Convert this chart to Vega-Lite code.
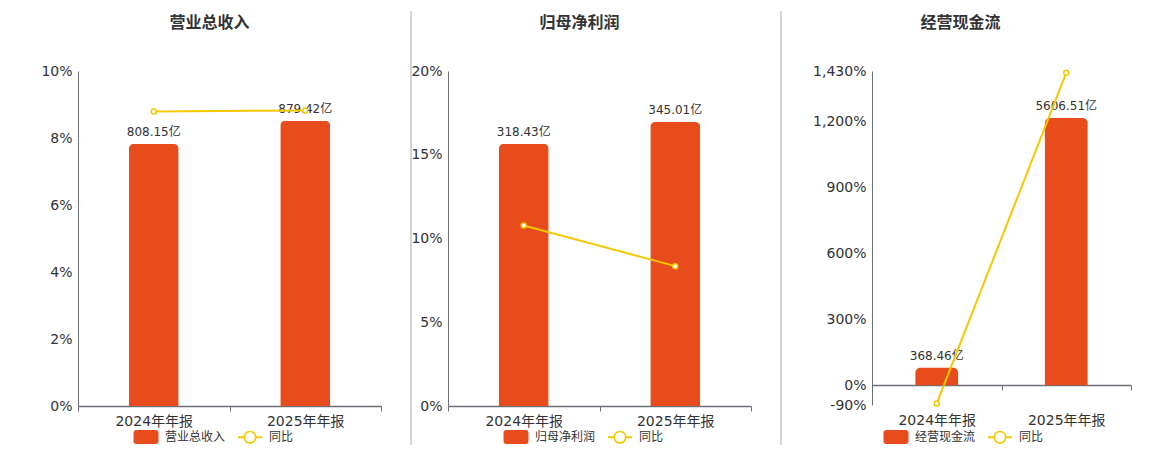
{
  "$schema": "https://vega.github.io/schema/vega-lite/v6.json",
  "padding": {"left": 40, "top": 10, "right": 30, "bottom": 0},
  "bounds": "flush",
  "spacing": 30,
  "hconcat": [
    {
      "width": 303,
      "height": 335,
      "title": {"text": "营业总收入", "dx": -20},
      "data": {"values": [
        {"period": "2024年年报", "value": 808.15, "label": "808.15亿", "yoy": 8.79},
        {"period": "2025年年报", "value": 879.42, "label": "879.42亿", "yoy": 8.82}
      ]},
      "encoding": {
        "x": {"field": "period", "type": "nominal", "sort": null, "scale": {"paddingInner": 0, "paddingOuter": 0}}
      },
      "layer": [
        {
          "encoding": {"y": {"field": "value", "type": "quantitative", "scale": {"domain": [0, 1033], "nice": false}, "axis": null}},
          "layer": [
            {
              "mark": {"type": "bar", "width": {"band": 0.33}, "cornerRadiusTopLeft": 5, "cornerRadiusTopRight": 5},
              "encoding": {
                "color": {
                  "datum": "营业总收入",
                  "scale": {"domain": ["营业总收入", "同比"], "range": ["#E84C1C", "#F5C800"]},
                  "legend": {
                    "orient": "none", "direction": "horizontal", "legendX": 54, "legendY": 352, "title": null,
                    "symbolSize": 772, "labelFontSize": 12, "labelColor": "#333333", "labelOffset": 5, "columnPadding": 10,
                    "encode": {"symbols": {"update": {
                      "shape": {"signal": "datum.value === '同比' ? 'M-0.86,-0.07H-0.46V0.07H-0.86Z M0.46,-0.07H0.86V0.07H0.46Z M0.47,0A0.47,0.47 0 1 1 -0.47,0A0.47,0.47 0 1 1 0.47,0Z M0.35,0A0.35,0.35 0 1 0 -0.35,0A0.35,0.35 0 1 0 0.35,0Z' : 'M-0.7,-0.5H0.7A0.2,0.2 0 0 1 0.9,-0.3V0.3A0.2,0.2 0 0 1 0.7,0.5H-0.7A0.2,0.2 0 0 1 -0.9,0.3V-0.3A0.2,0.2 0 0 1 -0.7,-0.5Z'"},
                      "strokeWidth": {"value": 0},
                      "size": {"value": 772},
                      "opacity": {"value": 1}
                    }}}
                  }
                }
              }
            },
            {
              "mark": {"type": "text", "baseline": "bottom", "dy": -5, "fontSize": 12, "color": "#333333"},
              "encoding": {"text": {"field": "label"}}
            }
          ]
        },
        {
          "encoding": {"y": {"field": "yoy", "type": "quantitative", "scale": {"domain": [0, 10], "nice": false, "zero": false},
            "axis": {"orient": "left", "values": [0, 2, 4, 6, 8, 10], "labelExpr": "datum.value + '%'"}}},
          "layer": [
            {"mark": {"type": "line", "strokeWidth": 2}, "encoding": {"color": {"datum": "同比"}}},
            {"mark": {"type": "point", "filled": false, "fill": "#ffffff", "fillOpacity": 1, "stroke": "#F5C800", "strokeWidth": 1.5, "size": 25, "opacity": 1}}
          ]
        }
      ],
      "resolve": {"scale": {"y": "independent"}}
    },
    {
      "width": 7,
      "height": 335,
      "data": {"values": [{}]},
      "mark": {"type": "rule", "color": "#aaaaaa", "strokeWidth": 1},
      "encoding": {
        "x": {"datum": 0, "type": "quantitative", "scale": {"domain": [0, 1]}, "axis": null},
        "y": {"datum": -0.116, "type": "quantitative", "scale": {"domain": [0, 1]}, "axis": null},
        "y2": {"datum": 1.179}
      }
    },
    {
      "width": 303,
      "height": 335,
      "title": {"text": "归母净利润", "dx": -20},
      "data": {"values": [
        {"period": "2024年年报", "value": 318.43, "label": "318.43亿", "yoy": 10.78},
        {"period": "2025年年报", "value": 345.01, "label": "345.01亿", "yoy": 8.35}
      ]},
      "encoding": {
        "x": {"field": "period", "type": "nominal", "sort": null, "scale": {"paddingInner": 0, "paddingOuter": 0}}
      },
      "layer": [
        {
          "encoding": {"y": {"field": "value", "type": "quantitative", "scale": {"domain": [0, 407], "nice": false}, "axis": null}},
          "layer": [
            {
              "mark": {"type": "bar", "width": {"band": 0.33}, "cornerRadiusTopLeft": 5, "cornerRadiusTopRight": 5},
              "encoding": {
                "color": {
                  "datum": "归母净利润",
                  "scale": {"domain": ["归母净利润", "同比"], "range": ["#E84C1C", "#F5C800"]},
                  "legend": {
                    "orient": "none", "direction": "horizontal", "legendX": 54, "legendY": 352, "title": null,
                    "symbolSize": 772, "labelFontSize": 12, "labelColor": "#333333", "labelOffset": 5, "columnPadding": 10,
                    "encode": {"symbols": {"update": {
                      "shape": {"signal": "datum.value === '同比' ? 'M-0.86,-0.07H-0.46V0.07H-0.86Z M0.46,-0.07H0.86V0.07H0.46Z M0.47,0A0.47,0.47 0 1 1 -0.47,0A0.47,0.47 0 1 1 0.47,0Z M0.35,0A0.35,0.35 0 1 0 -0.35,0A0.35,0.35 0 1 0 0.35,0Z' : 'M-0.7,-0.5H0.7A0.2,0.2 0 0 1 0.9,-0.3V0.3A0.2,0.2 0 0 1 0.7,0.5H-0.7A0.2,0.2 0 0 1 -0.9,0.3V-0.3A0.2,0.2 0 0 1 -0.7,-0.5Z'"},
                      "strokeWidth": {"value": 0},
                      "size": {"value": 772},
                      "opacity": {"value": 1}
                    }}}
                  }
                }
              }
            },
            {
              "mark": {"type": "text", "baseline": "bottom", "dy": -5, "fontSize": 12, "color": "#333333"},
              "encoding": {"text": {"field": "label"}}
            }
          ]
        },
        {
          "encoding": {"y": {"field": "yoy", "type": "quantitative", "scale": {"domain": [0, 20], "nice": false, "zero": false},
            "axis": {"orient": "left", "values": [0, 5, 10, 15, 20], "labelExpr": "datum.value + '%'"}}},
          "layer": [
            {"mark": {"type": "line", "strokeWidth": 2}, "encoding": {"color": {"datum": "同比"}}},
            {"mark": {"type": "point", "filled": false, "fill": "#ffffff", "fillOpacity": 1, "stroke": "#F5C800", "strokeWidth": 1.5, "size": 25, "opacity": 1}}
          ]
        }
      ],
      "resolve": {"scale": {"y": "independent"}}
    },
    {
      "width": 61,
      "height": 335,
      "data": {"values": [{}]},
      "mark": {"type": "rule", "color": "#aaaaaa", "strokeWidth": 1},
      "encoding": {
        "x": {"datum": 0, "type": "quantitative", "scale": {"domain": [0, 1]}, "axis": null},
        "y": {"datum": -0.116, "type": "quantitative", "scale": {"domain": [0, 1]}, "axis": null},
        "y2": {"datum": 1.179}
      }
    },
    {
      "width": 259,
      "height": 334,
      "title": {"text": "经营现金流", "dx": -41},
      "data": {"values": [
        {"period": "2024年年报", "value": 368.46, "label": "368.46亿", "yoy": -83},
        {"period": "2025年年报", "value": 5606.51, "label": "5606.51亿", "yoy": 1421.6}
      ]},
      "encoding": {
        "x": {"field": "period", "type": "nominal", "sort": null, "scale": {"paddingInner": 0, "paddingOuter": 0},
          "axis": {"offset": -20, "labelPadding": 23}}
      },
      "layer": [
        {
          "encoding": {"y": {"field": "value", "type": "quantitative", "scale": {"domain": [-414.8, 6590], "nice": false, "zero": false}, "axis": null}},
          "layer": [
            {
              "mark": {"type": "bar", "width": {"band": 0.33}, "cornerRadiusTopLeft": 5, "cornerRadiusTopRight": 5},
              "encoding": {
                "y2": {"datum": 0},
                "color": {
                  "datum": "经营现金流",
                  "scale": {"domain": ["经营现金流", "同比"], "range": ["#E84C1C", "#F5C800"]},
                  "legend": {
                    "orient": "none", "direction": "horizontal", "legendX": 10, "legendY": 352, "title": null,
                    "symbolSize": 772, "labelFontSize": 12, "labelColor": "#333333", "labelOffset": 5, "columnPadding": 10,
                    "encode": {"symbols": {"update": {
                      "shape": {"signal": "datum.value === '同比' ? 'M-0.86,-0.07H-0.46V0.07H-0.86Z M0.46,-0.07H0.86V0.07H0.46Z M0.47,0A0.47,0.47 0 1 1 -0.47,0A0.47,0.47 0 1 1 0.47,0Z M0.35,0A0.35,0.35 0 1 0 -0.35,0A0.35,0.35 0 1 0 0.35,0Z' : 'M-0.7,-0.5H0.7A0.2,0.2 0 0 1 0.9,-0.3V0.3A0.2,0.2 0 0 1 0.7,0.5H-0.7A0.2,0.2 0 0 1 -0.9,0.3V-0.3A0.2,0.2 0 0 1 -0.7,-0.5Z'"},
                      "strokeWidth": {"value": 0},
                      "size": {"value": 772},
                      "opacity": {"value": 1}
                    }}}
                  }
                }
              }
            },
            {
              "mark": {"type": "text", "baseline": "bottom", "dy": -5, "fontSize": 12, "color": "#333333"},
              "encoding": {"text": {"field": "label"}}
            }
          ]
        },
        {
          "encoding": {"y": {"field": "yoy", "type": "quantitative", "scale": {"domain": [-90, 1430], "nice": false, "zero": false},
            "axis": {"orient": "left", "values": [-90, 0, 300, 600, 900, 1200, 1430], "labelExpr": "(datum.value < 0 ? '-' : '') + format(abs(datum.value), ',') + '%'"}}},
          "layer": [
            {"mark": {"type": "line", "strokeWidth": 2}, "encoding": {"color": {"datum": "同比"}}},
            {"mark": {"type": "point", "filled": false, "fill": "#ffffff", "fillOpacity": 1, "stroke": "#F5C800", "strokeWidth": 1.5, "size": 25, "opacity": 1}}
          ]
        }
      ],
      "resolve": {"scale": {"y": "independent"}}
    }
  ],
  "resolve": {"scale": {"x": "independent", "y": "independent", "color": "independent"}, "legend": {"color": "independent"}},
  "config": {
    "font": "DejaVu Sans, Noto Sans CJK SC",
    "view": {"stroke": null},
    "title": {"fontSize": 16, "fontWeight": "bold", "color": "#333333", "anchor": "middle", "offset": 33, "font": "DejaVu Sans, Noto Sans CJK SC"},
    "axisX": {"title": null, "labelAngle": 0, "tickBand": "extent", "domainColor": "#6E7079", "domainWidth": 1.5, "tickColor": "#6E7079", "tickSize": 5, "labelPadding": 3, "grid": false, "labelFontSize": 14, "labelColor": "#333333"},
    "axisY": {"title": null, "domain": true, "domainColor": "#6E7079", "ticks": false, "grid": true, "gridColor": "#E0E6F1", "labelPadding": 6, "labelFontSize": 14, "labelColor": "#333333"},
    "legend": {"labelFont": "DejaVu Sans, Noto Sans CJK SC"}
  }
}
